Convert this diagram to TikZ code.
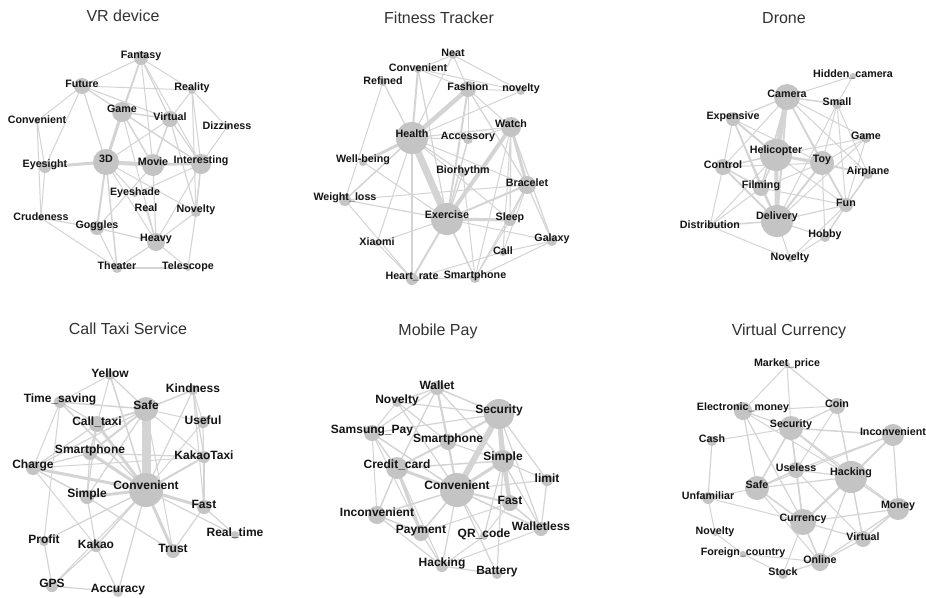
\documentclass[tikz,border=0pt]{standalone}
\usepackage{fontspec}
\setmainfont{Liberation Sans}
\usetikzlibrary{backgrounds}
\pgfdeclarelayer{fg}
\pgfdeclarelayer{paper}
\pgfsetlayers{paper,background,main,fg}

\definecolor{dotgray}{RGB}{196,196,196}
\definecolor{edgegray}{RGB}{212,212,212}
\definecolor{inkk}{RGB}{20,20,20}
\definecolor{titlegray}{RGB}{50,50,50}

\tikzset{
  dot/.style={circle,fill=dotgray,draw=none,inner sep=0pt},
  edge/.style={draw=edgegray,line cap=round},
  kw/.style={text=inkk,font=\fontsize{10.7}{12}\selectfont\bfseries,inner sep=0pt},
  bigkw/.style={kw/.append style={font=\fontsize{12}{14}\selectfont\bfseries}},
  paneltitle/.style={text=titlegray,font=\fontsize{16}{18}\selectfont,inner sep=0pt}
}

% keyword: name, x, y, radius, label
\newcommand\kw[5]{%
  \node[dot,minimum size=2*#4 pt] (#1) at (#2,#3) {};
  \begin{pgfonlayer}{fg}\node[kw] at (#2,#3-0.2*#4-1) {#5};\end{pgfonlayer}}

% co-occurrence links: prefix, list of a/b/width
\newcommand\links[2]{%
  \begin{pgfonlayer}{background}
  \foreach \a/\b/\w in {#2}{\draw[edge,line width=\w pt] (#1\a.center) -- (#1\b.center);}
  \end{pgfonlayer}}

\begin{document}
\begin{tikzpicture}[x=1pt,y=-1pt]
\begin{pgfonlayer}{paper}
\fill[white] (0,0) rectangle (926,597);
\end{pgfonlayer}
\useasboundingbox (0,0) rectangle (926,597);

% ---------------- VR device ----------------
\node[paneltitle] (tvr) at (123,16) {VR device};
\kw{vFantasy}{141}{58}{7}{Fantasy}
\kw{vFuture}{82}{86}{8}{Future}
\kw{vReality}{192}{90}{4}{Reality}
\kw{vConv}{37}{121}{3}{Convenient}
\kw{vGame}{122}{112}{10}{Game}
\kw{vVirtual}{170}{119}{8}{Virtual}
\kw{vDizz}{227}{127}{3}{Dizziness}
\kw{vD3}{106}{162}{13}{3D}
\kw{vEyesight}{45}{167}{6}{Eyesight}
\kw{vMovie}{153}{165}{11}{Movie}
\kw{vInteresting}{201}{164}{10}{Interesting}
\kw{vEyeshade}{135}{194}{3}{Eyeshade}
\kw{vReal}{146}{209}{3}{Real}
\kw{vNovelty}{196}{212}{5}{Novelty}
\kw{vCrude}{41}{218}{3}{Crudeness}
\kw{vGoggles}{97}{228}{7}{Goggles}
\kw{vHeavy}{156}{242}{9}{Heavy}
\kw{vTheater}{117}{268}{5}{Theater}
\kw{vTelescope}{188}{268}{3}{Telescope}
\links{v}{Fantasy/Future/1, Fantasy/Reality/1, Fantasy/Game/1.5, Fantasy/D3/1.5,
  Fantasy/Virtual/1.2, Fantasy/Interesting/1, Fantasy/Movie/1,
  Future/Reality/1, Future/Conv/1, Future/Eyesight/1, Future/D3/1.2,
  Future/Virtual/1, Future/Interesting/1, Future/Game/1,
  Game/D3/3, Game/Movie/1.5, Game/Virtual/1.5, Game/Interesting/1.2, Game/Heavy/1,
  Virtual/Movie/1.5, Virtual/Interesting/1.2, Virtual/D3/1, Virtual/Novelty/1.2,
  Reality/Virtual/1, Reality/Interesting/1, Reality/Novelty/1, Reality/Dizz/1,
  Dizz/Interesting/1, Conv/Eyesight/1, Conv/Crude/1,
  D3/Eyesight/3, D3/Movie/4, D3/Interesting/1.2, D3/Goggles/2, D3/Theater/1.5,
  D3/Eyeshade/1, D3/Heavy/1, D3/Novelty/1,
  Movie/Interesting/2, Movie/Heavy/1.2, Movie/Goggles/1,
  Interesting/Novelty/1.5, Interesting/Heavy/1, Interesting/Eyeshade/1,
  Eyesight/Crude/1, Crude/Goggles/1.2, Crude/Theater/1,
  Goggles/Heavy/1.2, Goggles/Theater/1, Heavy/Theater/1.2, Heavy/Telescope/1,
  Heavy/Novelty/1, Heavy/Real/1, Theater/Telescope/1.2, Novelty/Telescope/1}

% ---------------- Fitness Tracker ----------------
\node[paneltitle] (tft) at (439,18) {Fitness Tracker};
\kw{fNeat}{453}{55}{4}{Neat}
\kw{fConv}{418}{69}{4}{Convenient}
\kw{fRefined}{383}{82}{4}{Refined}
\kw{fFashion}{468}{89}{8}{Fashion}
\kw{fnovelty}{521}{91}{4}{novelty}
\kw{fWatch}{511}{127}{10}{Watch}
\kw{fHealth}{412}{138}{16}{Health}
\kw{fAccess}{468}{139}{5}{Accessory}
\kw{fWellbeing}{363}{162}{4}{Well-being}
\kw{fBio}{463}{173}{4}{Biorhythm}
\kw{fBracelet}{527}{185}{9}{Bracelet}
\kw{fWeight}{345}{200}{6}{Weight\_loss}
\kw{fExercise}{447}{219}{16}{Exercise}
\kw{fSleep}{510}{220}{6}{Sleep}
\kw{fGalaxy}{552}{241}{5}{Galaxy}
\kw{fXiaomi}{377}{243}{3}{Xiaomi}
\kw{fCall}{503}{252}{4}{Call}
\kw{fHeart}{412}{279}{6}{Heart\_rate}
\kw{fSmart}{475}{278}{5}{Smartphone}
\links{f}{Health/Exercise/7, Health/Fashion/4.5, Health/Conv/2, Health/Refined/1.2,
  Health/Wellbeing/3, Health/Weight/1.5, Health/Heart/1.2, Health/Access/1.2,
  Health/Watch/1.2, Health/Bracelet/1, Health/Bio/1.2, Health/Sleep/1,
  Health/novelty/1, Health/Neat/1, Health/Xiaomi/1,
  Exercise/Watch/4, Exercise/Bracelet/2, Exercise/Sleep/3, Exercise/Fashion/2,
  Exercise/Access/1.5, Exercise/Bio/1.2, Exercise/Heart/2, Exercise/Smart/1.5,
  Exercise/Weight/1.2, Exercise/Xiaomi/1, Exercise/Galaxy/1, Exercise/Wellbeing/1,
  Exercise/Conv/1.2,
  Watch/Bracelet/3, Watch/Galaxy/1.2, Watch/Fashion/1, Watch/Access/1,
  Watch/Sleep/1.2, Watch/Smart/1, Watch/Call/1,
  Neat/Conv/1, Neat/Fashion/1, Neat/novelty/1, Conv/Fashion/1, Conv/novelty/1,
  Refined/Weight/1, Fashion/Access/1, Fashion/Bracelet/1.2, Fashion/novelty/1,
  Bracelet/Galaxy/1.2, Bracelet/Sleep/1.2, Bracelet/Smart/1, Bracelet/Weight/1,
  Bracelet/Call/1, Weight/Heart/1, Galaxy/Call/1, Galaxy/Smart/1,
  Heart/Smart/1.2, Heart/Call/1, Xiaomi/Heart/1, Sleep/Smart/1, Bio/Smart/1}

% ---------------- Drone ----------------
\node[paneltitle] (tdr) at (784,18) {Drone};
\kw{dHidden}{853}{76}{3}{Hidden\_camera}
\kw{dCamera}{787}{97}{13}{Camera}
\kw{dSmall}{837}{104}{5}{Small}
\kw{dExpensive}{733}{119}{7}{Expensive}
\kw{dGame}{866}{138}{5}{Game}
\kw{dHeli}{776}{155}{16}{Helicopter}
\kw{dToy}{822}{163}{12}{Toy}
\kw{dControl}{723}{167}{8}{Control}
\kw{dAirplane}{868}{174}{5}{Airplane}
\kw{dFilming}{761}{188}{8}{Filming}
\kw{dFun}{846}{205}{7}{Fun}
\kw{dDelivery}{777}{221}{16}{Delivery}
\kw{dDistribution}{710}{226}{3}{Distribution}
\kw{dHobby}{825}{237}{5}{Hobby}
\kw{dNovelty}{790}{259}{3}{Novelty}
\links{d}{Camera/Heli/5, Camera/Delivery/2, Camera/Toy/1.5, Camera/Small/1.5,
  Camera/Hidden/1, Camera/Expensive/1.2, Camera/Filming/1.5, Camera/Control/1,
  Camera/Fun/1.2, Camera/Game/1, Camera/Airplane/1,
  Hidden/Small/1, Small/Toy/1, Small/Fun/1, Small/Airplane/1, Small/Delivery/1,
  Expensive/Heli/2, Expensive/Control/1, Expensive/Toy/1, Expensive/Delivery/1.5,
  Expensive/Filming/1,
  Heli/Toy/3, Heli/Delivery/4, Heli/Filming/1.5, Heli/Control/1.5, Heli/Game/1,
  Heli/Fun/1, Heli/Distribution/1, Heli/Airplane/1,
  Toy/Delivery/2, Toy/Fun/1.5, Toy/Airplane/1.2, Toy/Game/1, Toy/Hobby/1,
  Toy/Filming/1, Toy/Control/1,
  Control/Delivery/2, Control/Distribution/1, Control/Filming/1.5,
  Filming/Delivery/1.5, Filming/Distribution/1, Filming/Fun/1,
  Delivery/Distribution/1.5, Delivery/Fun/1.2, Delivery/Hobby/1.2,
  Delivery/Novelty/1, Delivery/Game/1,
  Fun/Hobby/1, Fun/Airplane/1.2, Fun/Novelty/1, Game/Fun/1, Airplane/Hobby/1,
  Novelty/Hobby/1, Distribution/Novelty/1}

% ---------------- Call Taxi Service ----------------
\node[paneltitle] (tct) at (128,329) {Call Taxi Service};
\begin{scope}[bigkw]
\kw{tYellow}{110}{375}{5}{Yellow}
\kw{tKindness}{193}{390}{5}{Kindness}
\kw{tTime}{60}{402}{6}{Time\_saving}
\kw{tSafe}{146}{409}{12}{Safe}
\kw{tCalltaxi}{97}{424}{8}{Call\_taxi}
\kw{tUseful}{203}{422}{6}{Useful}
\kw{tSmart}{90}{453}{7}{Smartphone}
\kw{tKakaoTaxi}{204}{457}{6}{KakaoTaxi}
\kw{tCharge}{33}{468}{7}{Charge}
\kw{tConv}{146}{490}{17}{Convenient}
\kw{tSimple}{87}{497}{7}{Simple}
\kw{tFast}{204}{507}{7}{Fast}
\kw{tRealtime}{235}{535}{4}{Real\_time}
\kw{tProfit}{44}{541}{5}{Profit}
\kw{tKakao}{96}{546}{6}{Kakao}
\kw{tTrust}{173}{551}{7}{Trust}
\kw{tGPS}{52}{586}{6}{GPS}
\kw{tAccuracy}{118}{592}{5}{Accuracy}
\end{scope}
\links{t}{Safe/Conv/9, Safe/Yellow/1.2, Safe/Kindness/1.5, Safe/Time/1.5,
  Safe/Calltaxi/2, Safe/Useful/1, Safe/Smart/2, Safe/Charge/1.2, Safe/Simple/1.2,
  Safe/Trust/1, Safe/KakaoTaxi/1,
  Yellow/Time/1, Yellow/Calltaxi/1, Yellow/Conv/1.5,
  Kindness/Useful/1, Kindness/Conv/1.2, Kindness/KakaoTaxi/1.2, Kindness/Fast/1,
  Time/Calltaxi/1.2, Time/Conv/1.5, Time/Charge/1, Time/Profit/1,
  Calltaxi/Conv/3, Calltaxi/Smart/1.5, Calltaxi/Charge/1.2, Calltaxi/Simple/1.2,
  Useful/Fast/1.2, Useful/Conv/1,
  Smart/Conv/3, Smart/Charge/1.2, Smart/KakaoTaxi/1.2, Smart/Simple/1.2,
  Charge/Conv/3, Charge/KakaoTaxi/1, Charge/Kakao/1, Charge/Simple/1.5,
  KakaoTaxi/Conv/2, KakaoTaxi/Fast/1.2,
  Conv/Simple/3, Conv/Fast/3, Conv/Realtime/1.2, Conv/Trust/3, Conv/Profit/1.2,
  Conv/Kakao/1.5, Conv/Accuracy/1.2, Conv/GPS/1,
  Simple/Kakao/1.2, Simple/Trust/1.2, Fast/Trust/1.2, Fast/Realtime/1.2,
  Profit/GPS/1.2, Kakao/GPS/1.2, Kakao/Accuracy/1.2, GPS/Accuracy/1.2}

% ---------------- Mobile Pay ----------------
\node[paneltitle] (tmp) at (438,331) {Mobile Pay};
\begin{scope}[bigkw]
\kw{mWallet}{437}{388}{7}{Wallet}
\kw{mNovelty}{397}{402}{5}{Novelty}
\kw{mSecurity}{499}{414}{15}{Security}
\kw{mSamsung}{372}{433}{8}{Samsung\_Pay}
\kw{mSmart}{448}{442}{8}{Smartphone}
\kw{mSimple}{503}{461}{11}{Simple}
\kw{mCredit}{397}{468}{11}{Credit\_card}
\kw{mlimit}{547}{480}{6}{limit}
\kw{mConv}{457}{490}{17}{Convenient}
\kw{mFast}{510}{503}{8}{Fast}
\kw{mIncon}{377}{515}{9}{Inconvenient}
\kw{mWalletless}{541}{529}{7}{Walletless}
\kw{mPayment}{421}{533}{8}{Payment}
\kw{mQR}{484}{536}{4}{QR\_code}
\kw{mHacking}{442}{566}{6}{Hacking}
\kw{mBattery}{497}{574}{5}{Battery}
\end{scope}
\links{m}{Security/Conv/6, Security/Simple/5, Security/Smart/2, Security/Wallet/1.5,
  Security/Novelty/1.2, Security/Samsung/1.2, Security/Fast/3, Security/limit/1.2,
  Security/Walletless/1.2, Security/Credit/1.5,
  Wallet/Novelty/1.2, Wallet/Smart/2, Wallet/Conv/1.5, Wallet/Credit/1.2,
  Wallet/Samsung/1.2, Wallet/Simple/1.2,
  Novelty/Samsung/1, Novelty/Conv/1.2, Novelty/Smart/1.2,
  Samsung/Credit/1.5, Samsung/Conv/1.5, Samsung/Incon/1, Samsung/Payment/1,
  Smart/Conv/2, Smart/Simple/1.2, Smart/Credit/1.2,
  Credit/Conv/3, Credit/Incon/1.5, Credit/Payment/3, Credit/Simple/1.5, Credit/Hacking/1,
  Simple/Conv/3, Simple/Fast/4, Simple/limit/1.2, Simple/Walletless/1.2,
  Simple/QR/1.2, Simple/Battery/1.2,
  Conv/Fast/2, Conv/Incon/1.5, Conv/Payment/1.5, Conv/QR/1.2, Conv/Battery/1.2,
  Conv/Hacking/1.2, Conv/limit/1.2, Conv/Walletless/1.5,
  Fast/Walletless/1.5, Fast/Payment/1, Fast/QR/1, limit/Walletless/1.2,
  Incon/Payment/1.5, Incon/Hacking/1.2, Payment/Hacking/1.2, QR/Hacking/1,
  Hacking/Battery/1.2, Hacking/Walletless/1}

% ---------------- Virtual Currency ----------------
\node[paneltitle] (tvc) at (789,331) {Virtual Currency};
\kw{cMarket}{787}{365}{3}{Market\_price}
\kw{cEmoney}{743}{411}{9}{Electronic\_money}
\kw{cCoin}{837}{406}{8}{Coin}
\kw{cSecurity}{791}{428}{12}{Security}
\kw{cCash}{712}{441}{5}{Cash}
\kw{cIncon}{893}{435}{11}{Inconvenient}
\kw{cUseless}{796}{470}{8}{Useless}
\kw{cHacking}{851}{477}{16}{Hacking}
\kw{cSafe}{757}{488}{12}{Safe}
\kw{cUnfam}{708}{498}{6}{Unfamiliar}
\kw{cMoney}{898}{509}{11}{Money}
\kw{cCurrency}{803}{522}{13}{Currency}
\kw{cVirtual}{863}{539}{8}{Virtual}
\kw{cNovelty}{715}{533}{3}{Novelty}
\kw{cForeign}{743}{554}{3}{Foreign\_country}
\kw{cOnline}{820}{562}{9}{Online}
\kw{cStock}{783}{574}{5}{Stock}
\links{c}{Market/Emoney/1, Market/Security/1, Market/Coin/1.2,
  Emoney/Coin/1, Emoney/Security/1.2, Emoney/Safe/1.2, Emoney/Currency/1.2,
  Emoney/Hacking/1,
  Coin/Security/1.2, Coin/Hacking/1.2, Coin/Virtual/1, Coin/Useless/1,
  Security/Incon/1.5, Security/Cash/1, Security/Hacking/1.5, Security/Currency/1.5,
  Security/Useless/1.2, Security/Safe/1.5, Security/Money/1,
  Cash/Unfam/1.2,
  Incon/Hacking/1.5, Incon/Money/1.2, Incon/Useless/1.2, Incon/Safe/1, Incon/Currency/1,
  Useless/Safe/1.5, Useless/Hacking/1.2, Useless/Currency/1.2, Useless/Virtual/1,
  Hacking/Safe/1.2, Hacking/Currency/2, Hacking/Money/1.5, Hacking/Virtual/1.2,
  Hacking/Online/1.2,
  Safe/Unfam/1, Safe/Currency/1.5, Safe/Online/1,
  Unfam/Currency/1, Unfam/Novelty/1,
  Money/Currency/1.2, Money/Virtual/1.5, Money/Online/1.2,
  Currency/Virtual/1.2, Currency/Stock/1, Currency/Online/1.5,
  Novelty/Foreign/1, Foreign/Stock/1, Foreign/Online/1, Online/Stock/1.2,
  Online/Virtual/1.2}
\end{tikzpicture}
\end{document}
